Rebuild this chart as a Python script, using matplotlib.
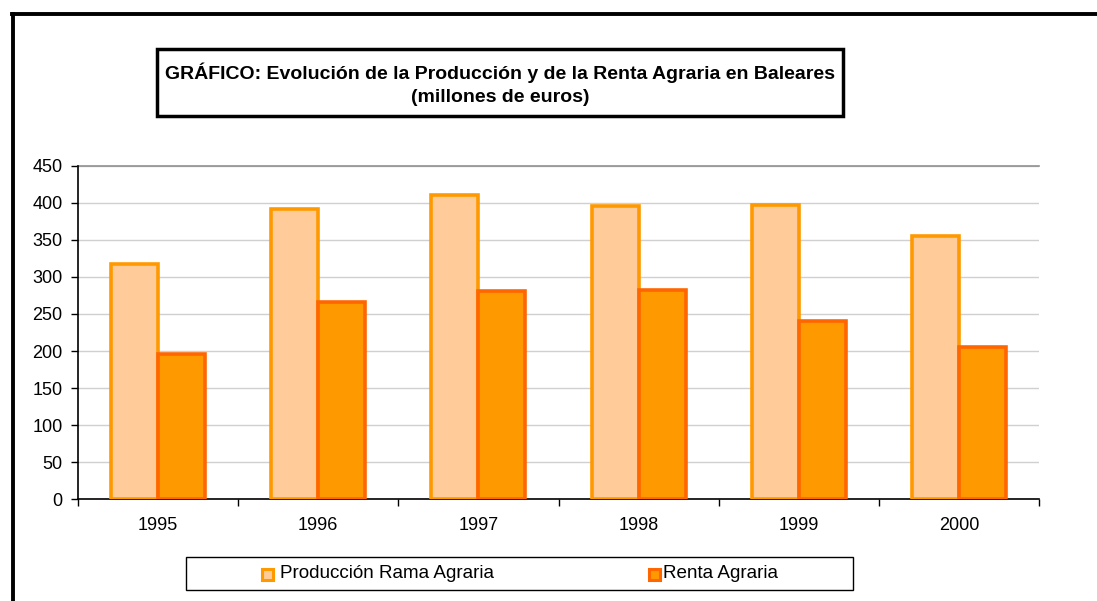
import matplotlib
matplotlib.use("Agg")
import matplotlib.pyplot as plt
import numpy as np
from matplotlib.patches import Rectangle
from matplotlib.lines import Line2D

years = ["1995", "1996", "1997", "1998", "1999", "2000"]
produccion = [318, 391, 410, 395, 397, 355]
renta = [196, 266, 281, 282, 241, 205]
series_names = ["Producción Rama Agraria", "Renta Agraria"]
title_lines = ["GRÁFICO: Evolución de la Producción y de la Renta Agraria en Baleares",
               "(millones de euros)"]

plt.rcParams['font.family'] = ['Liberation Sans', 'DejaVu Sans']

W, H = 1097, 601
fig = plt.figure(figsize=(W / 100, H / 100), dpi=100)
fig.patch.set_facecolor("white")

def fx(x):
    return x / W

def fy(y):
    return 1 - y / H

# axes placement (pixels)
L, R, T, B = 78, 1039, 165.7, 499.3
ax = fig.add_axes([fx(L), fy(B), fx(R) - fx(L), fy(T) - fy(B)])

x = np.arange(len(years))
bw = 0.293
c1_fill, c1_edge = "#FFCC99", "#FF9900"
c2_fill, c2_edge = "#FF9900", "#FF6600"
ax.bar(x - bw / 2, produccion, width=bw, color=c1_fill, edgecolor=c1_edge, linewidth=2.6, zorder=3)
ax.bar(x + bw / 2, renta, width=bw, color=c2_fill, edgecolor=c2_edge, linewidth=2.6, zorder=3)

ax.set_xlim(-0.5, len(years) - 0.5)
ax.set_ylim(0, 450)
ax.set_yticks(np.arange(0, 451, 50))
ax.yaxis.grid(True, color="#D0D0D0", linewidth=1.0, zorder=0)
ax.set_axisbelow(True)

ax.set_xticks(x)
ax.set_xticklabels(years)
ax.set_xticks(np.arange(-0.5, len(years)), minor=True)
ax.tick_params(axis="x", which="major", length=0, pad=13, labelsize=13)
ax.tick_params(axis="x", which="minor", length=5, width=1, color="black", direction="out")
ax.tick_params(axis="y", length=5, width=1, direction="out", pad=6, labelsize=13)

for s in ["top", "right"]:
    ax.spines[s].set_visible(False)
ax.spines["left"].set_linewidth(1.2)
ax.spines["bottom"].set_linewidth(1.2)
ax.axhline(450, color="#909090", linewidth=1.2, zorder=1, clip_on=False)

# outer border (cut by the image edges)
fig.add_artist(Line2D([fx(12), 1.0], [fy(14), fy(14)], color="black", linewidth=2.8, transform=fig.transFigure))
fig.add_artist(Line2D([fx(13), fx(13)], [fy(14), 0.0], color="black", linewidth=2.8, transform=fig.transFigure))

# title box
tx0, ty0, tx1, ty1 = 157, 49, 843, 116
fig.add_artist(Rectangle((fx(tx0), fy(ty1)), fx(tx1) - fx(tx0), fy(ty0) - fy(ty1),
                         transform=fig.transFigure, facecolor="white", edgecolor="black", linewidth=2.5))
fig.text(fx((tx0 + tx1) / 2), fy(73), title_lines[0], ha="center", va="center",
         fontsize=14, fontweight="bold")
fig.text(fx((tx0 + tx1) / 2), fy(98), title_lines[1], ha="center", va="center",
         fontsize=14, fontweight="bold")

# legend box
lx0, ly0, lx1, ly1 = 186, 557, 853, 590
fig.add_artist(Rectangle((fx(lx0), fy(ly1)), fx(lx1) - fx(lx0), fy(ly0) - fy(ly1),
                         transform=fig.transFigure, facecolor="white", edgecolor="black", linewidth=1.0))
entries = [(262, 280, c1_fill, c1_edge, series_names[0]),
           (649, 663, c2_fill, c2_edge, series_names[1])]
for mx, txx, fc, ec, name in entries:
    fig.add_artist(Rectangle((fx(mx), fy(580)), fx(11), 11 / H, transform=fig.transFigure,
                             facecolor=fc, edgecolor=ec, linewidth=2.2))
    fig.text(fx(txx), fy(574), name, ha="left", va="center", fontsize=13.6)

fig.savefig("out.png", dpi=100)
